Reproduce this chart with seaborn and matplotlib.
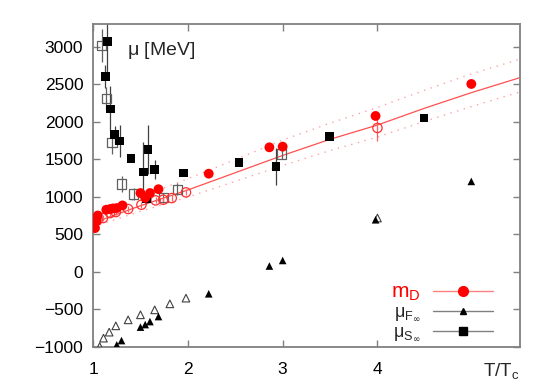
import numpy as np
import pandas as pd
import seaborn as sns
import matplotlib.pyplot as plt
from matplotlib.lines import Line2D

# m_D, filled red circles
md_x = [1.02, 1.035, 1.05, 1.14, 1.18, 1.21, 1.25, 1.31, 1.50, 1.55, 1.60, 1.69, 2.22, 2.86, 3.0, 3.98, 4.99]
md_y = [582, 671, 750, 827, 836, 844, 849, 884, 1049, 985, 1049, 1100, 1307, 1658, 1667, 2076, 2502]

# m_D, second data set (open red circles)
md2_x = [1.01, 1.05, 1.105, 1.18, 1.24, 1.37, 1.51, 1.66, 1.74, 1.83, 1.98, 4.0]
md2_y = [658, 693, 716, 782, 796, 836, 893, 951, 960, 982, 1058, 1916]
md2_e = [40, 40, 40, 40, 40, 40, 40, 40, 40, 40, 40, 170]

# fit of m_D with its band
fit_x = [1.0, 1.5, 2.0, 2.5, 3.0, 3.5, 4.0, 4.5, 5.0, 5.5]
fit_y = [650, 880, 1090, 1320, 1550, 1765, 1955, 2180, 2390, 2585]
fit_hi = [740, 1000, 1240, 1495, 1755, 1980, 2190, 2420, 2640, 2830]
fit_lo = [600, 805, 995, 1205, 1415, 1615, 1795, 2005, 2205, 2395]

# mu_F_inf, filled and open triangles
muf_x = [1.25, 1.30, 1.50, 1.55, 1.60, 1.69, 2.22, 2.86, 3.0, 3.98, 4.99]
muf_y = [-973, -916, -737, -703, -663, -596, -293, 77, 151, 693, 1204]
muf2_x = [1.07, 1.11, 1.17, 1.24, 1.37, 1.50, 1.65, 1.81, 1.98, 4.0]
muf2_y = [-996, -884, -804, -720, -640, -573, -507, -427, -351, 716]

# mu_S_inf, filled and open squares
mus_x = [1.13, 1.15, 1.18, 1.23, 1.28, 1.40, 1.53, 1.56, 1.58, 1.65, 1.95, 2.54, 2.93, 3.49, 4.49]
mus_y = [2604, 3063, 2169, 1827, 1743, 1507, 1329, 969, 1627, 1360, 1316, 1458, 1404, 1804, 2049]
mus_e = [150, 400, 300, 120, 215, 50, 400, 60, 330, 130, 40, 0, 250, 0, 0]
mus2_x = [1.09, 1.14, 1.20, 1.30, 1.43, 1.74, 1.89, 2.99]
mus2_y = [3017, 2307, 1724, 1170, 1036, 990, 1098, 1569]
mus2_e = [220, 150, 150, 110, 80, 60, 80, 60]

sns.set_theme(style='ticks')
plt.rcParams['font.family'] = ['Liberation Sans', 'DejaVu Sans']
fig = plt.figure(figsize=(5.54, 3.88), dpi=100)
ax = fig.add_axes([0.168, 0.106, 0.770, 0.832])

fit = pd.DataFrame({'x': fit_x, 'y': fit_y, 'hi': fit_hi, 'lo': fit_lo})
sns.lineplot(data=fit, x='x', y='y', color='#ff5050', lw=0.9, ax=ax, zorder=1)
sns.lineplot(data=fit, x='x', y='hi', color='#ffa0a0', lw=1.0, ls=(0, (1, 4)), ax=ax, zorder=1)
sns.lineplot(data=fit, x='x', y='lo', color='#ffa0a0', lw=1.0, ls=(0, (1, 4)), ax=ax, zorder=1)

# error bars
ax.errorbar(mus_x, mus_y, yerr=mus_e, fmt='none', ecolor='#404040', elinewidth=0.9, zorder=2)
ax.errorbar(mus2_x, mus2_y, yerr=mus2_e, fmt='none', ecolor='#606060', elinewidth=0.9, zorder=2)
ax.errorbar(md2_x, md2_y, yerr=md2_e, fmt='none', ecolor='#ff6060', elinewidth=0.9, zorder=2)

sns.scatterplot(x=mus2_x, y=mus2_y, marker='s', s=45, facecolor='none', edgecolor='#606060', linewidth=0.9, ax=ax, zorder=3)
sns.scatterplot(x=muf2_x, y=muf2_y, marker='^', s=30, facecolor='none', edgecolor='#404040', linewidth=0.8, ax=ax, zorder=3)
sns.scatterplot(x=md2_x, y=md2_y, marker='o', s=45, facecolor='none', edgecolor='#ff3030', linewidth=0.9, ax=ax, zorder=3)
sns.scatterplot(x=mus_x, y=mus_y, marker='s', s=40, color='black', edgecolor='none', ax=ax, zorder=4)
sns.scatterplot(x=muf_x, y=muf_y, marker='^', s=30, color='black', edgecolor='none', ax=ax, zorder=4)
sns.scatterplot(x=md_x, y=md_y, marker='o', s=50, color='red', edgecolor='none', ax=ax, zorder=5)

ax.set_xlim(1, 5.5)
ax.set_ylim(-1000, 3300)
ax.set_xticks([1, 2, 3, 4])
ax.set_yticks(np.arange(-1000, 3001, 500))
ax.set_xlabel('')
ax.set_ylabel('')
ax.tick_params(direction='in', top=True, right=True, length=5, width=1, color='#808080',
               labelsize=12.5, labelcolor='black')
ax.tick_params(axis='x', pad=11)
ax.tick_params(axis='y', pad=7)
for sp in ax.spines.values():
    sp.set_color('#808080')
    sp.set_linewidth(1.3)

ax.text(1.36, 2950, r'$\mathregular{\mu}$ [MeV]', fontsize=14, va='center', ha='left')
ax.text(1.0, -0.045, r'T/T$_\mathregular{c}$', transform=ax.transAxes, fontsize=13.5, ha='right', va='top')

handles = [
    Line2D([], [], color='#ff8080', lw=1, marker='o', mfc='red', mec='red', ms=7),
    Line2D([], [], color='#808080', lw=1, marker='^', mfc='black', mec='black', ms=5),
    Line2D([], [], color='#808080', lw=1, marker='s', mfc='black', mec='black', ms=6),
]
labels = [r'm$_\mathregular{D}$', r'$\mathregular{\mu}_{\mathregular{F}_\infty}$', r'$\mathregular{\mu}_{\mathregular{S}_\infty}$']
leg = ax.legend(handles, labels, loc='lower right', bbox_to_anchor=(0.945, 0.0), frameon=False,
                markerfirst=False, handlelength=3.3, fontsize=13, labelspacing=0.05, handletextpad=0.7,
                borderaxespad=0.2, borderpad=0.0)
leg.get_texts()[0].set_color('red')
leg.get_texts()[0].set_fontsize(15)

fig.savefig('out.png', dpi=100)
